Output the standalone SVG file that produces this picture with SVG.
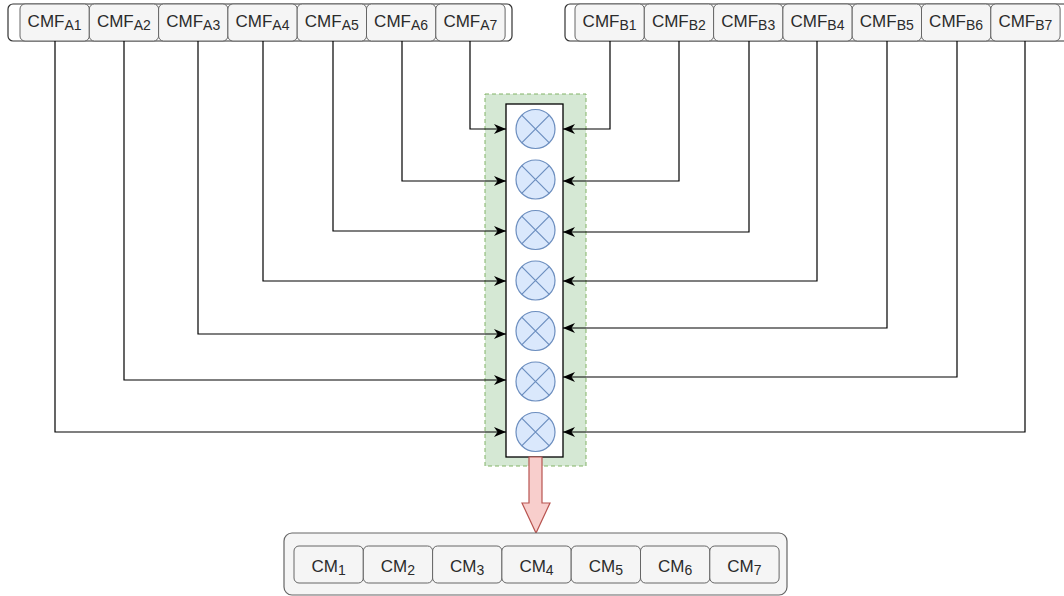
<svg xmlns="http://www.w3.org/2000/svg" width="1064" height="596" viewBox="0 0 1064 596">
  <defs>
    <style>
      .frame { fill: #ffffff; stroke: #333333; stroke-width: 1.2; }
      .cell { fill: #f5f5f5; stroke: #666666; stroke-width: 1; }
      .lbl { font-family: "Liberation Sans", Arial, sans-serif; font-size: 17px; fill: #2b2b2b; text-anchor: middle; }
      .sub { font-size: 14px; }
      .wire { fill: none; stroke: #000000; stroke-width: 1.2; }
      .mult circle { fill: #dae8fc; stroke: #6c8ebf; stroke-width: 1.2; }
      .mult path { fill: none; stroke: #6c8ebf; stroke-width: 1.2; }
    </style>
    <marker id="arrow" viewBox="0 0 12 10" refX="12" refY="5" markerWidth="12" markerHeight="10" markerUnits="userSpaceOnUse" orient="auto">
      <path d="M0,0 L12,5 L0,10 L3.5,5 Z" fill="#000000"/>
    </marker>
  </defs>

  <!-- feature bank A -->
  <g id="bankA">
    <rect class="frame" x="8" y="4" width="504" height="37" rx="5"/>
    <rect class="cell" x="20" y="4" width="69.3" height="37" rx="5"/>
    <rect class="cell" x="89.3" y="4" width="69.3" height="37" rx="5"/>
    <rect class="cell" x="158.6" y="4" width="69.3" height="37" rx="5"/>
    <rect class="cell" x="227.9" y="4" width="69.3" height="37" rx="5"/>
    <rect class="cell" x="297.2" y="4" width="69.3" height="37" rx="5"/>
    <rect class="cell" x="366.5" y="4" width="69.3" height="37" rx="5"/>
    <rect class="cell" x="435.8" y="4" width="69.3" height="37" rx="5"/>
    <text class="lbl" x="54.6" y="27">CMF<tspan class="sub" dy="3">A1</tspan></text>
    <text class="lbl" x="123.9" y="27">CMF<tspan class="sub" dy="3">A2</tspan></text>
    <text class="lbl" x="193.2" y="27">CMF<tspan class="sub" dy="3">A3</tspan></text>
    <text class="lbl" x="262.5" y="27">CMF<tspan class="sub" dy="3">A4</tspan></text>
    <text class="lbl" x="331.8" y="27">CMF<tspan class="sub" dy="3">A5</tspan></text>
    <text class="lbl" x="401.1" y="27">CMF<tspan class="sub" dy="3">A6</tspan></text>
    <text class="lbl" x="470.4" y="27">CMF<tspan class="sub" dy="3">A7</tspan></text>
  </g>

  <!-- feature bank B -->
  <g id="bankB">
    <rect class="frame" x="565" y="4" width="504" height="37" rx="5"/>
    <rect class="cell" x="575" y="4" width="69.3" height="37" rx="5"/>
    <rect class="cell" x="644.3" y="4" width="69.3" height="37" rx="5"/>
    <rect class="cell" x="713.6" y="4" width="69.3" height="37" rx="5"/>
    <rect class="cell" x="782.9" y="4" width="69.3" height="37" rx="5"/>
    <rect class="cell" x="852.2" y="4" width="69.3" height="37" rx="5"/>
    <rect class="cell" x="921.5" y="4" width="69.3" height="37" rx="5"/>
    <rect class="cell" x="990.8" y="4" width="69.3" height="37" rx="5"/>
    <text class="lbl" x="609.6" y="27">CMF<tspan class="sub" dy="3">B1</tspan></text>
    <text class="lbl" x="678.9" y="27">CMF<tspan class="sub" dy="3">B2</tspan></text>
    <text class="lbl" x="748.2" y="27">CMF<tspan class="sub" dy="3">B3</tspan></text>
    <text class="lbl" x="817.5" y="27">CMF<tspan class="sub" dy="3">B4</tspan></text>
    <text class="lbl" x="886.8" y="27">CMF<tspan class="sub" dy="3">B5</tspan></text>
    <text class="lbl" x="956.1" y="27">CMF<tspan class="sub" dy="3">B6</tspan></text>
    <text class="lbl" x="1025.4" y="27">CMF<tspan class="sub" dy="3">B7</tspan></text>
  </g>

  <!-- element-wise multiplier column -->
  <g id="multiplier">
    <rect x="485" y="94" width="101" height="372" fill="#d5e8d4" stroke="#82b366" stroke-width="1" stroke-dasharray="4 3"/>
    <rect x="506" y="104" width="57" height="353" fill="#ffffff" stroke="#000000" stroke-width="1.3"/>
    <g class="mult">
      <circle cx="535.5" cy="129" r="19.5"/><path d="M521.7,115.2 L549.3,142.8 M549.3,115.2 L521.7,142.8"/>
      <circle cx="535.5" cy="179.5" r="19.5"/><path d="M521.7,165.7 L549.3,193.3 M549.3,165.7 L521.7,193.3"/>
      <circle cx="535.5" cy="230" r="19.5"/><path d="M521.7,216.2 L549.3,243.8 M549.3,216.2 L521.7,243.8"/>
      <circle cx="535.5" cy="280.5" r="19.5"/><path d="M521.7,266.7 L549.3,294.3 M549.3,266.7 L521.7,294.3"/>
      <circle cx="535.5" cy="331" r="19.5"/><path d="M521.7,317.2 L549.3,344.8 M549.3,317.2 L521.7,344.8"/>
      <circle cx="535.5" cy="381.5" r="19.5"/><path d="M521.7,367.7 L549.3,395.3 M549.3,367.7 L521.7,395.3"/>
      <circle cx="535.5" cy="432" r="19.5"/><path d="M521.7,418.2 L549.3,445.8 M549.3,418.2 L521.7,445.8"/>
    </g>
  </g>

  <!-- connectors -->
  <g id="connectors">
    <path class="wire" marker-end="url(#arrow)" d="M470,41 V129 H506"/>
    <path class="wire" marker-end="url(#arrow)" d="M402,41 V181 H506"/>
    <path class="wire" marker-end="url(#arrow)" d="M333,41 V231 H506"/>
    <path class="wire" marker-end="url(#arrow)" d="M263,41 V281 H506"/>
    <path class="wire" marker-end="url(#arrow)" d="M198,41 V334 H506"/>
    <path class="wire" marker-end="url(#arrow)" d="M124,41 V380 H506"/>
    <path class="wire" marker-end="url(#arrow)" d="M55,41 V432 H506"/>

    <path class="wire" marker-end="url(#arrow)" d="M610,41 V129 H563"/>
    <path class="wire" marker-end="url(#arrow)" d="M679,41 V181 H563"/>
    <path class="wire" marker-end="url(#arrow)" d="M749,41 V232 H563"/>
    <path class="wire" marker-end="url(#arrow)" d="M817,41 V281 H563"/>
    <path class="wire" marker-end="url(#arrow)" d="M887,41 V328 H563"/>
    <path class="wire" marker-end="url(#arrow)" d="M957,41 V377 H563"/>
    <path class="wire" marker-end="url(#arrow)" d="M1025,41 V432 H563"/>

    <!-- output block arrow -->
    <path d="M529,457 H542 V503 H550 L536,533 L522,503 H529 Z" fill="#f8cecc" stroke="#b85450" stroke-width="1.2"/>
  </g>

  <!-- output bank -->
  <g id="output">
    <rect x="284" y="533" width="503" height="62" rx="8" fill="#f5f5f5" stroke="#666666" stroke-width="1.2"/>
    <rect class="cell" x="294" y="546" width="69.3" height="37" rx="5"/>
    <rect class="cell" x="363.3" y="546" width="69.3" height="37" rx="5"/>
    <rect class="cell" x="432.6" y="546" width="69.3" height="37" rx="5"/>
    <rect class="cell" x="501.9" y="546" width="69.3" height="37" rx="5"/>
    <rect class="cell" x="571.2" y="546" width="69.3" height="37" rx="5"/>
    <rect class="cell" x="640.5" y="546" width="69.3" height="37" rx="5"/>
    <rect class="cell" x="709.8" y="546" width="69.3" height="37" rx="5"/>
    <text class="lbl" x="328.6" y="572">CM<tspan class="sub" dy="3">1</tspan></text>
    <text class="lbl" x="397.9" y="572">CM<tspan class="sub" dy="3">2</tspan></text>
    <text class="lbl" x="467.2" y="572">CM<tspan class="sub" dy="3">3</tspan></text>
    <text class="lbl" x="536.5" y="572">CM<tspan class="sub" dy="3">4</tspan></text>
    <text class="lbl" x="605.8" y="572">CM<tspan class="sub" dy="3">5</tspan></text>
    <text class="lbl" x="675.1" y="572">CM<tspan class="sub" dy="3">6</tspan></text>
    <text class="lbl" x="744.4" y="572">CM<tspan class="sub" dy="3">7</tspan></text>
  </g>
</svg>
